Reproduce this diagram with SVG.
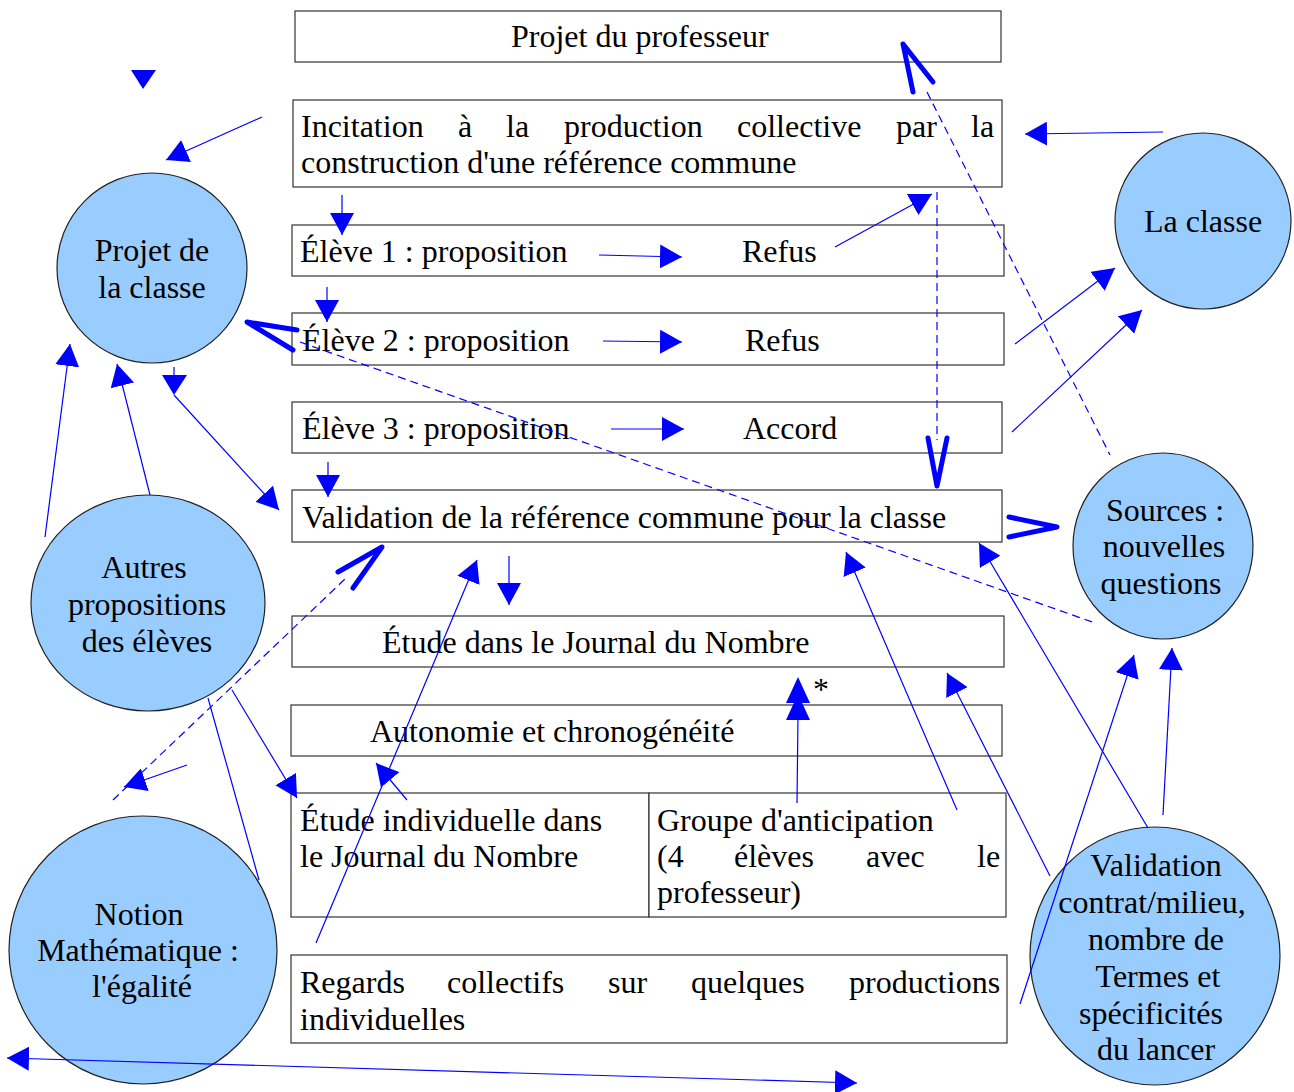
<svg xmlns="http://www.w3.org/2000/svg" width="1294" height="1092" viewBox="0 0 1294 1092">
<style>
.box{fill:#fff;stroke:#333;stroke-width:1.2}
.node{fill:#99ccff;stroke:#222;stroke-width:1.2}
.t{font-family:"Liberation Serif","Times New Roman",serif;font-size:32px;fill:#000}
.c{text-anchor:middle}
.ln{stroke:#0000ff;stroke-width:1.2;fill:none}
.dash{stroke-dasharray:8 5}
.thick{stroke:#0000ff;stroke-width:5;stroke-linecap:round;stroke-linejoin:round;fill:none}
.ah{fill:#0000ff}
</style>
<defs>
<marker id="arr" markerUnits="userSpaceOnUse" viewBox="0 0 22 24" refX="22" refY="12" markerWidth="22" markerHeight="24" orient="auto">
<path d="M0,0 L22,12 L0,24 z" fill="#0000ff"/>
</marker>
<marker id="arrs" markerUnits="userSpaceOnUse" viewBox="0 0 22 24" refX="22" refY="12" markerWidth="22" markerHeight="24" orient="auto-start-reverse">
<path d="M0,0 L22,12 L0,24 z" fill="#0000ff"/>
</marker>
</defs>
<rect x="0" y="0" width="1294" height="1092" fill="#fff"/>

<g id="projet-professeur">
<rect class="box" x="295" y="11" width="706" height="51"/>
<text class="t" x="511" y="47">Projet du professeur</text>
</g>
<g id="incitation">
<rect class="box" x="293" y="100" width="709" height="87"/>
<text class="t" y="137"><tspan x="301">Incitation</tspan><tspan x="458">à</tspan><tspan x="506">la</tspan><tspan x="564">production</tspan><tspan x="737">collective</tspan><tspan x="896">par</tspan><tspan x="971">la</tspan></text>
<text class="t" x="301" y="173">construction d'une référence commune</text>
</g>
<g id="eleve1">
<rect class="box" x="292" y="225" width="712" height="51"/>
<text class="t" x="300" y="262">Élève 1 : proposition</text>
<text class="t" x="742" y="262">Refus</text>
</g>
<g id="eleve2">
<rect class="box" x="292" y="313" width="712" height="52"/>
<text class="t" x="302" y="351">Élève 2 : proposition</text>
<text class="t" x="745" y="351">Refus</text>
</g>
<g id="eleve3">
<rect class="box" x="292" y="402" width="710" height="51"/>
<text class="t" x="302" y="439">Élève 3 : proposition</text>
<text class="t" x="743" y="439">Accord</text>
</g>
<g id="validation-reference">
<rect class="box" x="292" y="490" width="710" height="52"/>
<text class="t" x="302" y="528">Validation de la référence commune pour la classe</text>
</g>
<g id="etude-journal">
<rect class="box" x="292" y="616" width="712" height="51"/>
<text class="t" x="382" y="653">Étude dans le Journal du Nombre</text>
</g>
<g id="autonomie">
<rect class="box" x="291" y="705" width="711" height="51"/>
<text class="t" x="370" y="742">Autonomie et chronogénéité</text>
</g>
<g id="etude-individuelle">
<rect class="box" x="291" y="793" width="358" height="124"/>
<text class="t" x="300" y="831">Étude individuelle dans</text>
<text class="t" x="300" y="867">le Journal du Nombre</text>
</g>
<g id="groupe-anticipation">
<rect class="box" x="649" y="793" width="357" height="124"/>
<text class="t" x="657" y="831">Groupe d'anticipation</text>
<text class="t" y="867"><tspan x="657">(4</tspan><tspan x="734">élèves</tspan><tspan x="866">avec</tspan><tspan x="977">le</tspan></text>
<text class="t" x="657" y="903">professeur)</text>
</g>
<g id="regards">
<rect class="box" x="291" y="955" width="716" height="88"/>
<text class="t" y="993"><tspan x="300">Regards</tspan><tspan x="447">collectifs</tspan><tspan x="608">sur</tspan><tspan x="691">quelques</tspan><tspan x="849">productions</tspan></text>
<text class="t" x="300" y="1030">individuelles</text>
</g>

<g id="projet-classe">
<ellipse class="node" cx="152" cy="268" rx="95" ry="95"/>
<text class="t c" x="152" y="261">Projet de</text>
<text class="t c" x="152" y="298">la classe</text>
</g>
<g id="la-classe">
<ellipse class="node" cx="1203" cy="221" rx="88" ry="88"/>
<text class="t c" x="1203" y="232">La classe</text>
</g>
<g id="sources">
<ellipse class="node" cx="1163" cy="546" rx="90" ry="93"/>
<text class="t c" x="1165" y="521">Sources :</text>
<text class="t c" x="1164" y="557">nouvelles</text>
<text class="t c" x="1161" y="594">questions</text>
</g>
<g id="autres-propositions">
<ellipse class="node" cx="148" cy="603" rx="117" ry="108"/>
<text class="t c" x="144" y="578">Autres</text>
<text class="t c" x="147" y="615">propositions</text>
<text class="t c" x="147" y="652">des élèves</text>
</g>
<g id="notion">
<ellipse class="node" cx="143" cy="950" rx="134" ry="134"/>
<text class="t c" x="139" y="925">Notion</text>
<text class="t c" x="138" y="961">Mathématique :</text>
<text class="t c" x="142" y="997">l'égalité</text>
</g>
<g id="validation-contrat">
<ellipse class="node" cx="1155" cy="956" rx="125" ry="129"/>
<text class="t c" x="1156" y="876">Validation</text>
<text class="t c" x="1152" y="913">contrat/milieu,</text>
<text class="t c" x="1156" y="950">nombre de</text>
<text class="t c" x="1158" y="987">Termes et</text>
<text class="t c" x="1151" y="1024">spécificités</text>
<text class="t c" x="1156" y="1060">du lancer</text>
</g>

<g id="connectors">
<polygon class="ah" points="131,70 156,70 143,89"/>
<line class="ln" x1="262" y1="117" x2="166" y2="160" marker-end="url(#arr)"/>
<line class="ln" x1="342" y1="195" x2="342" y2="235" marker-end="url(#arr)"/>
<line class="ln" x1="327" y1="287" x2="327" y2="322" marker-end="url(#arr)"/>
<line class="ln" x1="328" y1="462" x2="328" y2="497" marker-end="url(#arr)"/>
<line class="ln" x1="509" y1="556" x2="509" y2="605" marker-end="url(#arr)"/>
<line class="ln" x1="599" y1="255" x2="682" y2="257" marker-end="url(#arr)"/>
<line class="ln" x1="603" y1="341" x2="682" y2="342" marker-end="url(#arr)"/>
<line class="ln" x1="611" y1="429" x2="684" y2="429" marker-end="url(#arr)"/>
<line class="ln" x1="835" y1="247" x2="932" y2="194" marker-end="url(#arr)"/>
<line class="ln dash" x1="937" y1="192" x2="937" y2="440"/>
<polyline class="thick" points="928,438 937,486 947,438"/>
<line class="ln dash" x1="927" y1="92" x2="1110" y2="455"/>
<polyline class="thick" points="913,92 903,44 933,82"/>
<line class="ln" x1="1163" y1="132" x2="1025" y2="134" marker-end="url(#arr)"/>
<line class="ln" x1="1015" y1="344" x2="1115" y2="268" marker-end="url(#arr)"/>
<line class="ln" x1="1012" y1="432" x2="1142" y2="310" marker-end="url(#arr)"/>
<polyline class="thick" points="1009,517 1057,527 1009,537"/>
<line class="ln dash" x1="300" y1="342" x2="1095" y2="623"/>
<polyline class="thick" points="297,330 247,322 293,350"/>
<line class="ln" x1="45" y1="537" x2="70" y2="344" marker-end="url(#arr)"/>
<line class="ln" x1="150" y1="495" x2="117" y2="364" marker-end="url(#arr)"/>
<line class="ln" x1="174" y1="367" x2="174" y2="375"/>
<polygon class="ah" points="162,375 187,375 174,395"/>
<line class="ln" x1="174" y1="395" x2="279" y2="510" marker-end="url(#arr)"/>
<line class="ln dash" x1="113" y1="800" x2="345" y2="579"/>
<polyline class="thick" points="338,572 382,547 353,588"/>
<line class="ln" x1="187" y1="765" x2="124" y2="787" marker-end="url(#arr)"/>
<line class="ln" x1="208" y1="698" x2="259" y2="880"/>
<line class="ln" x1="232" y1="690" x2="297" y2="798" marker-end="url(#arr)"/>
<line class="ln" x1="316" y1="943" x2="477" y2="560" marker-end="url(#arr)"/>
<line class="ln" x1="407" y1="800" x2="376" y2="763" marker-end="url(#arr)"/>
<line class="ln" x1="797" y1="803" x2="798" y2="715"/>
<polygon class="ah" points="786,720 810,720 798,694"/>
<polygon class="ah" points="786,703 810,703 798,677"/>
<line class="ln" x1="957" y1="810" x2="846" y2="552" marker-end="url(#arr)"/>
<line class="ln" x1="1050" y1="876" x2="947" y2="673" marker-end="url(#arr)"/>
<line class="ln" x1="1148" y1="828" x2="979" y2="543" marker-end="url(#arr)"/>
<line class="ln" x1="1020" y1="1004" x2="1134" y2="655" marker-end="url(#arr)"/>
<line class="ln" x1="1163" y1="815" x2="1172" y2="648" marker-end="url(#arr)"/>
<line class="ln" x1="7" y1="1058" x2="857" y2="1083" marker-start="url(#arrs)" marker-end="url(#arr)"/>
</g>
<text class="t" x="813" y="700">*</text>
</svg>
